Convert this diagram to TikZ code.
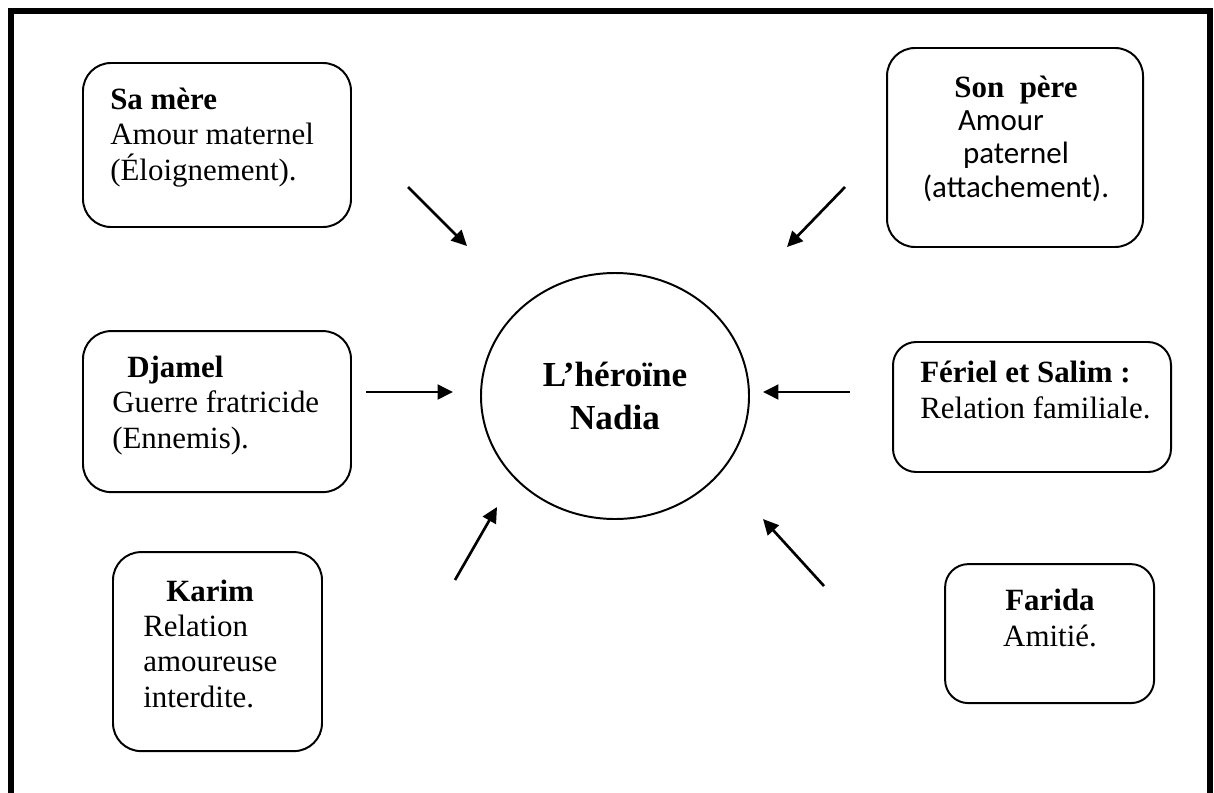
\documentclass[tikz,border=0pt]{standalone}
\usepackage{fontspec}
\setmainfont{Liberation Serif}
\newfontfamily\calibfont{Carlito}
\usetikzlibrary{shapes.geometric, arrows.meta, positioning}

\begin{document}
\begin{tikzpicture}[
  relbox/.style={rectangle, rounded corners=0.7cm, draw=black, line width=1.4pt,
                 inner sep=0pt},
  reltext/.style={inner sep=0pt, align=left, anchor=base west,
                  font=\fontsize{22}{25}\selectfont},
  hero/.style={ellipse, draw=black, line width=1.4pt, inner sep=0pt,
               minimum width=6.7cm, minimum height=6.15cm, align=center,
               font=\fontsize{25}{30}\selectfont\bfseries},
  arr/.style={-{Triangle[length=11pt, width=10.5pt]}, line width=1.9pt}
]
  \useasboundingbox (0,0) rectangle (30.35,-19.8);

  % outer frame, open at the bottom
  \draw[line width=4.3pt] (0.275,-20) -- (0.275,-0.285) -- (30.26,-0.285) -- (30.26,-20);

  % Centre
  \node[hero] (heroine) at (15.375,-9.9) {L’héroïne\\Nadia};

  % Left column (text nodes sit on the baseline of their last line)
  \node[relbox, minimum width=6.7cm, minimum height=4.1cm]   (mere)   at (5.425,-3.625) {};
  \node[reltext] (mere-txt) at (2.75,-4.5)
        {\textbf{Sa mère}\\Amour maternel\\(Éloignement).};

  \node[relbox, minimum width=6.7cm, minimum height=4.025cm] (djamel) at (5.425,-10.29) {};
  \node[reltext] (djamel-txt) at (2.8,-11.2)
        {\hspace*{0.375cm}\textbf{Djamel}\\Guerre fratricide\\(Ennemis).};

  \node[relbox, minimum width=5.225cm, minimum height=4.975cm] (karim) at (5.4375,-16.29) {};
  \node[reltext] (karim-txt) at (3.575,-17.675)
        {\hspace*{0.575cm}\textbf{Karim}\\Relation\\amoureuse\\interdite.};

  % Right column
  \node[relbox, minimum width=6.4cm, minimum height=4.975cm] (pere) at (25.375,-3.6875) {};
  \node[reltext, anchor=base, align=center, font=\fontsize{22}{23.5}\selectfont] (pere-txt) at (25.4,-4.925)
        {\textbf{Son\ \ père}\\\makebox[2.9cm][l]{\calibfont Amour}\\{\calibfont paternel}\\{\calibfont (attachement).}};

  \node[relbox, rounded corners=0.58cm, minimum width=6.95cm, minimum height=3.25cm] (feriel) at (25.8,-10.175) {};
  \node[reltext] (feriel-txt) at (23.0,-10.45)
        {\textbf{Fériel et Salim :}\\Relation familiale.};

  \node[relbox, rounded corners=0.58cm, minimum width=5.225cm, minimum height=3.475cm] (farida) at (26.24,-15.84) {};
  \node[reltext, anchor=base, align=center] (farida-txt) at (26.25,-16.15)
        {\textbf{Farida}\\Amitié.};

  % ── Arrows ────────────────────────────────────────────────────────────
  \coordinate (mere-a)   at (10.2,-4.675);
  \coordinate (mere-b)   at (11.675,-6.15);
  \coordinate (pere-a)   at (21.125,-4.675);
  \coordinate (pere-b)   at (19.675,-6.175);
  \coordinate (djamel-a) at (9.15,-9.8);
  \coordinate (djamel-b) at (11.325,-9.8);
  \coordinate (feriel-a) at (21.25,-9.8);
  \coordinate (feriel-b) at (19.075,-9.8);
  \coordinate (karim-a)  at (11.375,-14.5);
  \coordinate (karim-b)  at (12.425,-12.675);
  \coordinate (farida-a) at (20.6,-14.65);
  \coordinate (farida-b) at (19.075,-12.975);

  \draw[arr] (mere-a) -- (mere-b);
  \draw[arr] (pere-a) -- (pere-b);
  \draw[arr] (djamel-a) -- (djamel-b);
  \draw[arr] (feriel-a) -- (feriel-b);
  \draw[arr] (karim-a) -- (karim-b);
  \draw[arr] (farida-a) -- (farida-b);

\end{tikzpicture}
\end{document}
